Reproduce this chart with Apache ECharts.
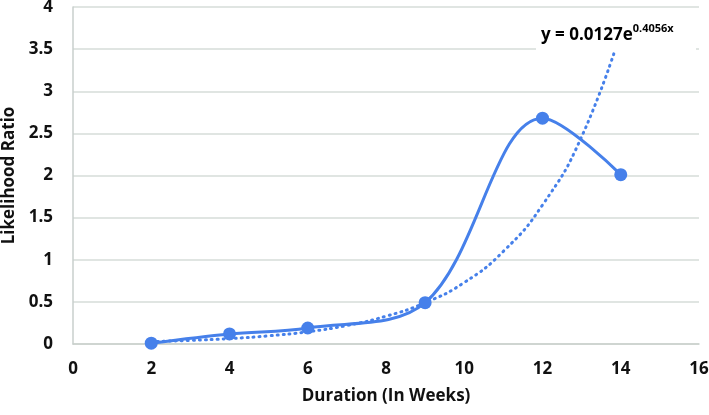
<!DOCTYPE html>
<html><head><meta charset="utf-8">
<script src="https://cdn.jsdelivr.net/npm/echarts@6/dist/echarts.min.js"></script>
<style>html,body{margin:0;padding:0;background:#fff}#c{width:709px;height:415px}</style>
</head><body><div id="c"></div>
<script>
var weeks = [2, 4, 6, 9, 12, 14];
var ratios = [0.01, 0.12, 0.19, 0.49, 2.68, 2.01];
var trendWeeks = [2, 3, 4, 5, 6, 7, 8, 9, 10, 11, 12, 13, 14];
var trendValues = [0.029, 0.043, 0.064, 0.097, 0.145, 0.22, 0.33, 0.49, 0.73, 1.1, 1.65, 2.46, 3.7];
var xTicks = [0, 2, 4, 6, 8, 10, 12, 14, 16];
var yTicks = [0, 0.5, 1, 1.5, 2, 2.5, 3, 3.5, 4];
var equationMain = 'y = 0.0127e';
var equationExp = '0.4056x';

var blue = '#4680ea';
var font = 'Open Sans';
var chart = echarts.init(document.getElementById('c'));
chart.setOption({
  animation: false,
  grid: {left: 73, right: 10, top: 7, bottom: 71, outerBoundsMode: 'none', containLabel: false},
  xAxis: {
    type: 'value', min: xTicks[0], max: xTicks[xTicks.length - 1], interval: 2,
    name: 'Duration (In Weeks)', nameLocation: 'middle', nameGap: 44,
    nameTextStyle: {fontFamily: font, fontWeight: 'bold', fontSize: 17, color: '#111'},
    axisLine: {show: true, lineStyle: {color: '#c9cfcc', width: 1.5}},
    axisTick: {show: false},
    splitLine: {show: false},
    axisLabel: {fontFamily: font, fontWeight: 'bold', fontSize: 17, color: '#111', margin: 17}
  },
  yAxis: {
    type: 'value', min: yTicks[0], max: yTicks[yTicks.length - 1], interval: 0.5,
    name: 'Likelihood Ratio', nameLocation: 'middle', nameGap: 52, nameRotate: 90,
    nameTextStyle: {fontFamily: font, fontWeight: 'bold', fontSize: 17, color: '#111'},
    axisLine: {show: true, lineStyle: {color: '#c9cfcc', width: 1.5}},
    axisTick: {show: false},
    splitLine: {show: true, lineStyle: {color: '#d6dcd9', width: 1.5}},
    axisLabel: {fontFamily: font, fontWeight: 'bold', fontSize: 17, color: '#111', margin: 20}
  },
  series: [
    {
      type: 'line', smooth: 0.5, showSymbol: false, z: 2,
      data: trendWeeks.map(function (w, i) { return [w, trendValues[i]]; }),
      lineStyle: {color: blue, width: 3, type: [1, 5], cap: 'round'},
      itemStyle: {color: blue}
    },
    {
      type: 'line', smooth: 0.35, symbol: 'circle', symbolSize: 13, z: 3,
      data: weeks.map(function (w, i) { return [w, ratios[i]]; }),
      lineStyle: {color: blue, width: 3},
      itemStyle: {color: blue}
    }
  ],
  graphic: [{
    type: 'rect', left: 536, top: 20, shape: {width: 160, height: 32},
    style: {fill: '#fff'}, z: 10
  }, {
    type: 'text', left: 541, top: 23, z: 11,
    style: {
      text: '{m|' + equationMain + '}{e|' + equationExp + '}',
      rich: {
        m: {fontFamily: font, fontWeight: 'bold', fontSize: 17, color: '#111', verticalAlign: 'bottom'},
        e: {fontFamily: font, fontWeight: 'bold', fontSize: 11, color: '#111', verticalAlign: 'top', padding: [0, 0, 10, 0]}
      }
    }
  }]
});
</script></body></html>
